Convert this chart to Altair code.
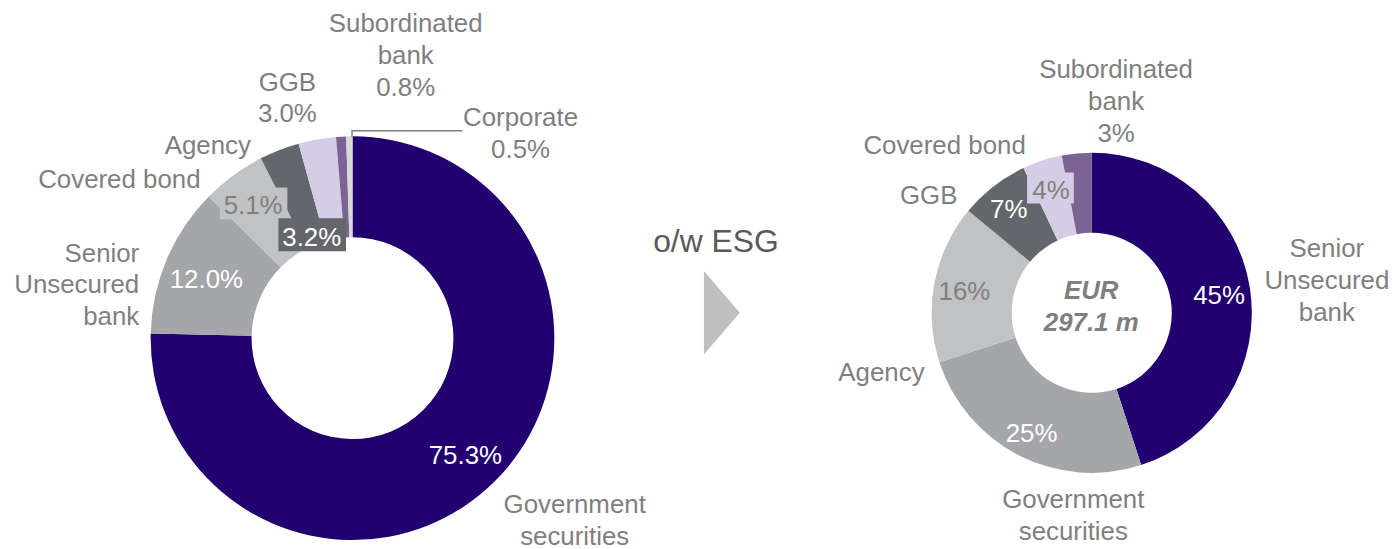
import altair as alt
import pandas as pd

# ---------------- data ----------------
left_categories = ["Government securities", "Senior Unsecured bank", "Covered bond",
                   "Agency", "GGB", "Subordinated bank", "Corporate"]
left_values = [75.3, 12.0, 5.1, 3.2, 3.0, 0.8, 0.5]

right_categories = ["Senior Unsecured bank", "Government securities", "Agency",
                    "GGB", "Covered bond", "Subordinated bank"]
right_values = [45, 25, 16, 7, 4, 3]

center_text = "EUR\n297.1 m"
arrow_text = "o/w ESG"

# ---------------- style / layout ----------------
W, H = 1390, 541
OFF = 8  # page margin: image coords -> chart coords
FONT = "Liberation Sans"
FS = 26
TEXT = "#7F7F7F"
PURPLE = "#23006F"
MID = "#A5A6A9"
LIGHT = "#C1C2C4"
DARK = "#63666A"
LAV = "#D5CCE6"
MPURP = "#7B6395"
CORP = "#D9D9D9"
left_colors = [PURPLE, MID, LIGHT, DARK, LAV, MPURP, CORP]
right_colors = [PURPLE, MID, LIGHT, DARK, LAV, MPURP]

L_CX, L_CY, L_R, L_r = 354.5, 338.5, 203, 101.5
R_CX, R_CY, R_R, R_r = 1098, 313, 161, 80.5

wrap = {"Government securities": "Government\nsecurities",
        "Senior Unsecured bank": "Senior\nUnsecured\nbank",
        "Subordinated bank": "Subordinated\nbank"}

# outer category label layout (first-line middle): (x, y, align, include pct)
left_name_pos = {
    "Government securities": (578, 505, "center", False),
    "Senior Unsecured bank": (140, 252, "right", False),
    "Covered bond": (120, 178, "center", False),
    "Agency": (209, 144, "center", False),
    "GGB": (289, 80, "center", True),
    "Subordinated bank": (408, 21, "center", True),
    "Corporate": (523.5, 116, "center", True),
}
# in-slice percentage label layout: (x, y, color, box x1,x2,y1,y2)
left_pct_pos = {
    "Government securities": (468, 456, "white", None),
    "Senior Unsecured bank": (207.5, 279, "white", None),
    "Covered bond": (254.5, 204, TEXT, (221, 289, 187, 219)),
    "Agency": (313.5, 236, "white", (280, 348, 218, 251)),
}
right_name_pos = {
    "Senior Unsecured bank": (1334.5, 247.5, "center", False),
    "Government securities": (1079.5, 500, "center", False),
    "Agency": (886.5, 372, "center", False),
    "GGB": (934, 194, "center", False),
    "Covered bond": (950, 144, "center", False),
    "Subordinated bank": (1122.5, 67.5, "center", True),
}
right_pct_pos = {
    "Senior Unsecured bank": (1226, 295, "white", None),
    "Government securities": (1037.5, 433, "white", None),
    "Agency": (970, 290.5, TEXT, None),
    "GGB": (1014.5, 208, "white", None),
    "Covered bond": (1057, 189, TEXT, (1033, 1080, 172, 203)),
}
leader_pts = [(354, 136), (354, 130), (465, 130)]
arrow_text_pos = (720, 240)
arrow_pos = (726, 313)
center_pos = (1097.5, 290)

xs = alt.Scale(domain=[OFF, OFF + W])
ys = alt.Scale(domain=[OFF + H, OFF])


def fmt(v, dec):
    return f"{v:.{dec}f}%"


def build(cats, vals, colors, name_pos, pct_pos, dec):
    names, pcts, boxes = [], [], []
    for c, v, col in zip(cats, vals, colors):
        x, y, al, inc = name_pos[c]
        t = wrap.get(c, c)
        if inc:
            t = t + "\n" + fmt(v, dec)
        names.append(dict(x=x, y=y, text=t, align=al))
        if c in pct_pos:
            px, py, pc, box = pct_pos[c]
            pcts.append(dict(x=px, y=py, text=fmt(v, dec), color=pc))
            if box:
                boxes.append(dict(x=box[0], x2=box[1], y=box[2], y2=box[3], color=col))
    return names, pcts, boxes


def arc_layer(cats, vals, colors, cx, cy, R, r):
    df = pd.DataFrame({"idx": range(len(cats)), "cat": cats, "value": vals})
    return alt.Chart(df).mark_arc(innerRadius=r, outerRadius=R).encode(
        theta=alt.Theta("value:Q", stack=True),
        color=alt.Color("cat:N", scale=alt.Scale(domain=cats, range=colors), legend=None),
        order=alt.Order("idx:Q", sort="ascending"),
        x=alt.value(cx - OFF),
        y=alt.value(cy - OFF),
    )


def text_layer(rows, align, color=None, **kw):
    df = pd.DataFrame(rows)
    enc = dict(
        x=alt.X("x:Q", scale=xs, axis=None),
        y=alt.Y("y:Q", scale=ys, axis=None),
        text="text:N",
    )
    if color is None:
        enc["color"] = alt.Color("color:N", scale=None)
    mk = dict(font=FONT, fontSize=FS, align=align, baseline="middle",
              lineBreak="\n", lineHeight=32, dy=1.5)
    mk.update(kw)
    if color is not None:
        mk["color"] = color
    return alt.Chart(df).mark_text(**mk).encode(**enc)


def box_layer(rows):
    df = pd.DataFrame(rows)
    return alt.Chart(df).mark_rect().encode(
        x=alt.X("x:Q", scale=xs, axis=None), x2="x2:Q",
        y=alt.Y("y:Q", scale=ys, axis=None), y2="y2:Q",
        color=alt.Color("color:N", scale=None),
    )


ln, lp, lb = build(left_categories, left_values, left_colors, left_name_pos, left_pct_pos, 1)
rn, rp, rb = build(right_categories, right_values, right_colors, right_name_pos, right_pct_pos, 0)

layers = [
    arc_layer(left_categories, left_values, left_colors, L_CX, L_CY, L_R, L_r),
    arc_layer(right_categories, right_values, right_colors, R_CX, R_CY, R_R, R_r),
    box_layer(lb + rb),
    text_layer(lp + rp, "center"),
    text_layer([n for n in ln + rn if n["align"] == "center"], "center", color=TEXT),
    text_layer([n for n in ln + rn if n["align"] == "right"], "right", color=TEXT),
    text_layer([dict(x=center_pos[0], y=center_pos[1], text=center_text)], "center",
               color=TEXT, fontWeight="bold", fontStyle="italic"),
    text_layer([dict(x=arrow_text_pos[0], y=arrow_text_pos[1], text=arrow_text)], "center",
               color="#595959", fontSize=32),
]

lead_df = pd.DataFrame({"o": range(len(leader_pts)),
                        "x": [p[0] for p in leader_pts], "y": [p[1] for p in leader_pts]})
layers.append(alt.Chart(lead_df).mark_line(color=TEXT, strokeWidth=1.5).encode(
    x=alt.X("x:Q", scale=xs, axis=None), y=alt.Y("y:Q", scale=ys, axis=None), order="o:Q"))

arrow_df = pd.DataFrame({"x": [arrow_pos[0]], "y": [arrow_pos[1]]})
layers.append(alt.Chart(arrow_df).mark_point(
    shape="M-0.43,-1L0.43,0L-0.43,1Z", filled=True, size=7056, color="#BFBFBF",
    opacity=1, strokeWidth=0).encode(
    x=alt.X("x:Q", scale=xs, axis=None), y=alt.Y("y:Q", scale=ys, axis=None)))

chart = alt.layer(*layers).resolve_scale(theta="independent", color="independent").properties(
    width=W, height=H, padding=0, autosize="none"
).configure_view(strokeWidth=0)

chart.save("out.html", embed_options={"renderer": "svg", "actions": False})
